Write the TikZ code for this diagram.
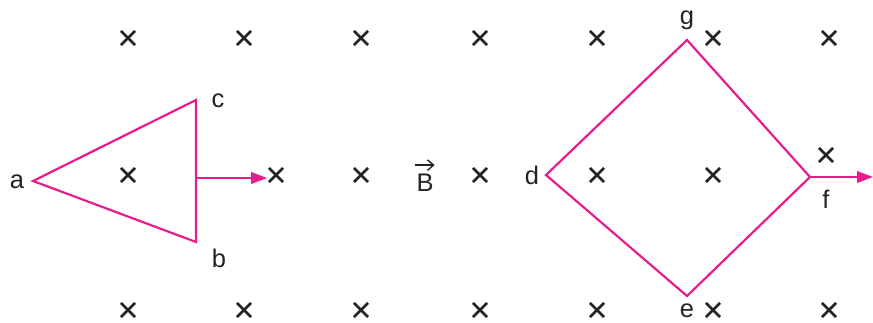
\documentclass[tikz,border=0pt]{standalone}
\usepackage{fontspec}
\setmainfont{Liberation Sans}
\usetikzlibrary{arrows.meta,shapes.misc}
\definecolor{loopcol}{RGB}{232,28,140}
\definecolor{crosscol}{RGB}{35,35,35}
\tikzset{
  fieldx/.style = {cross out, draw = crosscol, line width = 1.5pt, minimum size = 6.5pt, inner sep = 0pt},
  wire/.style = {draw = loopcol, line width = 1.25pt, line join = miter},
  push/.style = {loopcol, line width = 1.25pt, -{Triangle[length = 9pt, width = 6.5pt]}},
  lbl/.style = {text = crosscol, font = \fontsize{14.5}{16}\selectfont, inner sep = 1pt}
}
\begin{document}
\begin{tikzpicture}[x = 0.02cm, y = -0.02cm]
    \useasboundingbox (0,0) rectangle (873,322);
    % magnetic field into the page
    \foreach \xx [count = \i] in {128,244,361,480,597,713,829} {
        \node[fieldx] (top\i) at (\xx,38) {};
        \node[fieldx] (bot\i) at (\xx,310) {};
    }
    \foreach \xx [count = \i] in {128,276,361,480,597,713} {
        \node[fieldx] (mid\i) at (\xx,175) {};
    }
    \node[fieldx] (mid7) at (826,155) {};
    % triangular loop
    \coordinate (a) at (33,181);
    \coordinate (c) at (196,100);
    \coordinate (b) at (196,242);
    \coordinate (pushabc) at (196,178);
    \coordinate (tipabc) at (267,178);
    \draw[wire] (a) -- (c) -- (b) -- cycle;
    \draw[push] (pushabc) -- (tipabc);
    \node[lbl] (la) at (17,182) {a};
    \node[lbl] (lc) at (218,101) {c};
    \node[lbl] (lb) at (219,258) {b};
    % field label
    \node[lbl] (bvec) at (425,183) {B};
    \draw[crosscol, line width = 0.8pt, -{Straight Barb[length = 3.5pt, width = 6pt]}] ([xshift = -5.5pt, yshift = 4pt]bvec.north) -- ([xshift = 5.5pt, yshift = 4pt]bvec.north);
    % square loop
    \coordinate (d) at (546,175);
    \coordinate (g) at (687,40);
    \coordinate (f) at (810,177);
    \coordinate (e) at (687,296);
    \coordinate (tipf) at (873,177);
    \draw[wire] (d) -- (g) -- (f) -- (e) -- cycle;
    \draw[push] (f) -- (tipf);
    \node[lbl] (ld) at (532,175) {d};
    \node[lbl] (lg) at (687,20) {g};
    \node[lbl] (lf) at (826,199) {f};
    \node[lbl] (le) at (687,311) {e};
\end{tikzpicture}
\end{document}
